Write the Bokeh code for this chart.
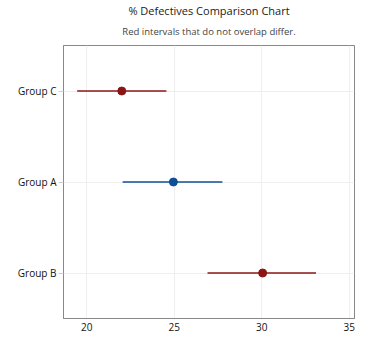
from bokeh.plotting import figure
from bokeh.models import ColumnDataSource, Title, Range1d, FactorRange, FixedTicker
from bokeh.embed import file_html
from bokeh.resources import INLINE

groups = ["Group C", "Group A", "Group B"]
means = [22.0, 24.95, 30.05]
lower = [19.45, 22.05, 26.9]
upper = [24.55, 27.75, 33.1]
colors = ["#8B1414", "#0E4E98", "#8B1414"]
x_ticks = [20, 25, 30, 35]
title_text = "% Defectives Comparison Chart"
subtitle_text = "Red intervals that do not overlap differ."

src = ColumnDataSource(dict(g=groups, m=means, lo=lower, hi=upper, c=colors))

p = figure(width=380, height=349, output_backend="svg", toolbar_location=None,
           y_range=FactorRange(factors=["Group B", "Group A", "Group C"], range_padding=0),
           x_range=Range1d(18.67, 35.3),
           min_border_left=63, min_border_right=26, min_border_top=45, min_border_bottom=31)
p.title = None

sub = Title(text=subtitle_text, align="center",
            text_font="Open Sans", text_font_size="9.5px", text_font_style="normal",
            text_color="#444444", standoff=16)
ttl = Title(text=title_text, align="center",
            text_font="Open Sans", text_font_size="11px", text_font_style="normal",
            text_color="#1a1a1a", standoff=-7)
p.add_layout(sub, "above")
p.add_layout(ttl, "above")

p.segment(x0="lo", y0="g", x1="hi", y1="g", color="c", line_width=1.3, source=src)
p.scatter(x="m", y="g", size=8, color="c", source=src)

p.outline_line_color = "#888888"
p.outline_line_width = 1
p.background_fill_color = "white"
p.border_fill_color = "white"

p.xaxis.ticker = FixedTicker(ticks=x_ticks)
for ax in (p.xaxis, p.yaxis):
    ax.axis_line_color = "#888888"
    ax.major_label_text_font = "Open Sans"
    ax.major_label_text_font_size = "10px"
    ax.major_label_text_color = "#111111"
    ax.minor_tick_line_color = None
p.xaxis.major_tick_line_color = None
p.xaxis.major_tick_out = 0
p.xaxis.major_tick_in = 0
p.xaxis.major_label_standoff = 4
p.yaxis.major_tick_line_color = "#cccccc"
p.yaxis.major_tick_in = 0
p.yaxis.major_tick_out = 5
p.yaxis.major_label_standoff = 2

p.xgrid.grid_line_color = "#eeeeee"
p.ygrid.grid_line_color = "#eeeeee"

open("out.html", "w").write(file_html(p, INLINE))
